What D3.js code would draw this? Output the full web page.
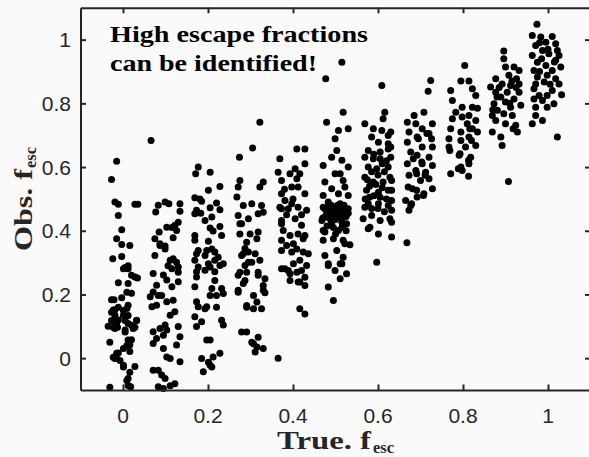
<!DOCTYPE html>
<html>
<head>
<meta charset="utf-8">
<script src="https://cdn.jsdelivr.net/npm/d3@7"></script>
<style>
  html, body { margin: 0; padding: 0; background: #fafafa; }
  svg { display: block; }
</style>
</head>
<body>
<div id="chart"></div>
<script>
// ---- data: [true f_esc (with jitter), observed f_esc] ----
const cluster00 = [[-0.015,0.618],[-0.027,0.561],[-0.019,0.49],[-0.011,0.483],[-0.011,0.448],[0.028,0.483],[0.035,0.483],[-0.003,0.403],[-0.015,0.375],[-0.003,0.357],[0.016,0.354],[-0.024,0.312],[-0.003,0.319],[0.001,0.281],[0.012,0.281],[0.02,0.26],[0.034,0.252],[-0.011,0.237],[0.012,0.234],[0.009,0.207],[0.02,0.204],[-0.003,0.19],[-0.027,0.183],[-0.021,0.183],[-0.011,0.16],[-0.019,0.152],[-0.027,0.144],[0.001,0.15],[0.012,0.134],[-0.019,0.124],[-0.027,0.118],[-0.011,0.12],[0.005,0.118],[0.032,0.118],[-0.035,0.1],[-0.023,0.097],[-0.013,0.097],[0.02,0.103],[0.028,0.097],[0.005,0.082],[-0.031,0.05],[0.02,0.058],[0.009,0.04],[0.001,0.03],[-0.011,0.016],[-0.023,0.003],[-0.016,0.003],[0.016,0.021],[-0.007,-0.007],[0.001,-0.028],[0.028,-0.026],[0.016,-0.044],[0.009,-0.07],[0.012,-0.086],[-0.031,-0.091],[0.018,-0.09],[0.028,0.255],[0.012,0.166],[-0.023,0.151],[0.009,0.156],[-0.019,0.135],[0.001,0.135],[0.032,0.119],[-0.015,0.109],[0.012,0.109],[0.024,0.093],[-0.019,0.093],[0.005,0.088],[0.012,0.057],[-0.015,0.015],[-0.019,-0.001],[0.001,-0.022],[0.012,-0.064],[0.016,0.041],[0.005,0.285],[0.012,0.29]];
const cluster01 = [[0.066,0.683],[0.099,0.49],[0.108,0.485],[0.083,0.48],[0.077,0.459],[0.134,0.485],[0.134,0.461],[0.13,0.427],[0.122,0.417],[0.115,0.41],[0.103,0.411],[0.126,0.401],[0.085,0.396],[0.118,0.378],[0.075,0.375],[0.087,0.354],[0.099,0.343],[0.075,0.322],[0.111,0.307],[0.126,0.301],[0.106,0.29],[0.13,0.286],[0.071,0.266],[0.095,0.261],[0.103,0.245],[0.079,0.229],[0.13,0.24],[0.115,0.224],[0.071,0.208],[0.083,0.197],[0.091,0.197],[0.064,0.193],[0.103,0.177],[0.118,0.182],[0.068,0.161],[0.079,0.166],[0.122,0.146],[0.111,0.135],[0.13,0.099],[0.099,0.104],[0.087,0.093],[0.103,0.088],[0.071,0.083],[0.095,0.072],[0.079,0.062],[0.134,0.067],[0.071,0.046],[0.126,0.041],[0.095,0.03],[0.103,0.004],[0.111,-0.001],[0.134,-0.011],[0.071,-0.038],[0.083,-0.038],[0.091,-0.053],[0.099,-0.064],[0.122,-0.08],[0.111,-0.087],[0.083,-0.09],[0.095,-0.095],[0.087,0.359],[0.099,0.352],[0.118,0.312],[0.115,0.281],[0.13,0.27]];
const cluster02 = [[0.177,0.6],[0.171,0.579],[0.205,0.584],[0.228,0.539],[0.201,0.527],[0.169,0.504],[0.185,0.493],[0.22,0.487],[0.205,0.472],[0.228,0.466],[0.169,0.453],[0.183,0.455],[0.209,0.443],[0.193,0.432],[0.205,0.409],[0.212,0.399],[0.228,0.413],[0.232,0.385],[0.169,0.385],[0.169,0.37],[0.201,0.367],[0.209,0.343],[0.197,0.338],[0.177,0.338],[0.216,0.333],[0.193,0.322],[0.224,0.317],[0.169,0.307],[0.201,0.296],[0.228,0.291],[0.177,0.286],[0.205,0.286],[0.173,0.271],[0.193,0.276],[0.216,0.271],[0.169,0.224],[0.209,0.219],[0.232,0.219],[0.205,0.197],[0.22,0.197],[0.173,0.177],[0.236,0.203],[0.177,0.161],[0.197,0.161],[0.169,0.13],[0.185,0.114],[0.173,0.099],[0.232,0.119],[0.236,0.104],[0.197,0.057],[0.205,0.057],[0.185,-0.001],[0.212,0.004],[0.228,0.015],[0.205,-0.022],[0.189,-0.043],[0.209,-0.028],[0.173,0.328],[0.216,0.307],[0.236,0.296],[0.173,0.255],[0.216,0.244],[0.22,0.16],[0.193,0.155],[0.201,-0.013],[0.181,0.5],[0.173,0.464]];
const cluster03 = [[0.322,0.741],[0.305,0.66],[0.274,0.631],[0.275,0.558],[0.271,0.537],[0.268,0.506],[0.283,0.479],[0.303,0.485],[0.322,0.537],[0.33,0.553],[0.326,0.479],[0.271,0.448],[0.295,0.438],[0.279,0.422],[0.318,0.453],[0.33,0.458],[0.275,0.39],[0.318,0.396],[0.291,0.364],[0.315,0.375],[0.295,0.333],[0.279,0.322],[0.322,0.307],[0.303,0.301],[0.287,0.291],[0.271,0.26],[0.291,0.27],[0.318,0.26],[0.334,0.249],[0.283,0.234],[0.271,0.207],[0.33,0.228],[0.334,0.205],[0.307,0.197],[0.315,0.176],[0.291,0.165],[0.307,0.155],[0.326,0.155],[0.279,0.082],[0.291,0.082],[0.318,0.066],[0.307,0.045],[0.33,0.03],[0.311,0.019],[0.365,0.0],[0.275,0.422],[0.299,0.39],[0.287,0.344],[0.283,0.328],[0.311,0.328],[0.295,0.301],[0.275,0.27],[0.287,0.244],[0.318,0.27],[0.271,0.213],[0.33,0.213],[0.291,0.16],[0.303,0.05],[0.315,0.035]];
const cluster04 = [[0.409,0.657],[0.428,0.657],[0.369,0.626],[0.428,0.61],[0.405,0.595],[0.365,0.584],[0.393,0.579],[0.416,0.579],[0.373,0.558],[0.409,0.563],[0.397,0.537],[0.412,0.537],[0.373,0.516],[0.428,0.516],[0.381,0.495],[0.397,0.485],[0.369,0.474],[0.412,0.474],[0.373,0.469],[0.389,0.469],[0.432,0.464],[0.373,0.432],[0.405,0.438],[0.42,0.417],[0.377,0.401],[0.393,0.385],[0.428,0.385],[0.373,0.37],[0.401,0.359],[0.373,0.338],[0.409,0.343],[0.436,0.328],[0.416,0.307],[0.432,0.291],[0.401,0.296],[0.373,0.281],[0.389,0.275],[0.409,0.27],[0.428,0.254],[0.393,0.244],[0.412,0.239],[0.428,0.228],[0.416,0.155],[0.428,0.139],[0.373,0.422],[0.412,0.39],[0.424,0.375],[0.385,0.354],[0.397,0.333],[0.424,0.333],[0.381,0.281],[0.42,0.275],[0.393,0.265],[0.416,0.239],[0.385,0.45],[0.42,0.45],[0.4,0.5],[0.38,0.53]];
const cluster05 = [[0.515,0.929],[0.477,0.877],[0.518,0.772],[0.479,0.741],[0.507,0.715],[0.53,0.72],[0.499,0.689],[0.503,0.652],[0.491,0.631],[0.471,0.605],[0.515,0.621],[0.53,0.6],[0.499,0.579],[0.511,0.579],[0.475,0.553],[0.518,0.558],[0.491,0.532],[0.522,0.537],[0.507,0.516],[0.471,0.511],[0.53,0.511],[0.483,0.49],[0.511,0.485],[0.471,0.474],[0.475,0.469],[0.491,0.479],[0.507,0.469],[0.522,0.464],[0.53,0.469],[0.468,0.432],[0.491,0.422],[0.515,0.427],[0.526,0.422],[0.475,0.396],[0.507,0.401],[0.471,0.37],[0.495,0.375],[0.518,0.37],[0.534,0.356],[0.503,0.338],[0.518,0.317],[0.475,0.322],[0.511,0.296],[0.483,0.291],[0.499,0.275],[0.526,0.265],[0.511,0.249],[0.483,0.223],[0.495,0.181],[0.471,0.401],[0.522,0.359],[0.483,0.296],[0.515,0.296],[0.48,0.46],[0.49,0.45],[0.5,0.455],[0.51,0.445],[0.52,0.45],[0.485,0.44],[0.5,0.435],[0.515,0.44],[0.495,0.465],[0.505,0.48],[0.52,0.48],[0.478,0.45],[0.525,0.445],[0.49,0.43],[0.51,0.46],[0.5,0.47],[0.485,0.475],[0.53,0.455],[0.47,0.44],[0.515,0.41],[0.495,0.41],[0.48,0.415],[0.525,0.4],[0.5,0.39]];
const cluster06 = [[0.609,0.856],[0.616,0.772],[0.612,0.752],[0.569,0.736],[0.589,0.72],[0.609,0.715],[0.624,0.699],[0.585,0.694],[0.601,0.678],[0.624,0.673],[0.577,0.652],[0.605,0.647],[0.624,0.657],[0.569,0.631],[0.589,0.626],[0.605,0.626],[0.577,0.6],[0.597,0.595],[0.624,0.6],[0.569,0.568],[0.589,0.553],[0.612,0.553],[0.628,0.568],[0.573,0.527],[0.601,0.521],[0.624,0.527],[0.577,0.485],[0.601,0.485],[0.624,0.479],[0.63,0.71],[0.63,0.663],[0.63,0.631],[0.632,0.558],[0.632,0.527],[0.632,0.495],[0.632,0.464],[0.632,0.427],[0.569,0.474],[0.585,0.47],[0.6,0.47],[0.615,0.46],[0.565,0.438],[0.585,0.448],[0.605,0.432],[0.628,0.438],[0.577,0.406],[0.601,0.39],[0.632,0.38],[0.597,0.301],[0.581,0.411],[0.58,0.54],[0.595,0.545],[0.61,0.535],[0.59,0.51],[0.605,0.505],[0.62,0.5],[0.575,0.56],[0.6,0.575],[0.615,0.585],[0.585,0.585],[0.58,0.505],[0.57,0.5],[0.61,0.61],[0.59,0.64],[0.62,0.62]];
const cluster07 = [[0.724,0.872],[0.718,0.838],[0.685,0.762],[0.708,0.772],[0.669,0.741],[0.689,0.736],[0.728,0.736],[0.704,0.72],[0.673,0.71],[0.72,0.705],[0.692,0.694],[0.669,0.678],[0.728,0.663],[0.704,0.663],[0.677,0.647],[0.692,0.637],[0.72,0.631],[0.669,0.61],[0.704,0.61],[0.728,0.605],[0.689,0.589],[0.712,0.584],[0.673,0.574],[0.72,0.563],[0.7,0.558],[0.681,0.532],[0.728,0.532],[0.708,0.516],[0.692,0.506],[0.665,0.495],[0.677,0.479],[0.673,0.464],[0.695,0.689],[0.715,0.705],[0.726,0.689],[0.683,0.626],[0.703,0.616],[0.691,0.579],[0.711,0.574],[0.671,0.537],[0.691,0.527],[0.707,0.511],[0.679,0.485],[0.668,0.362]];
const cluster08 = [[0.804,0.919],[0.795,0.87],[0.814,0.87],[0.771,0.84],[0.822,0.846],[0.83,0.825],[0.775,0.809],[0.798,0.788],[0.822,0.788],[0.834,0.785],[0.783,0.772],[0.814,0.762],[0.775,0.752],[0.798,0.757],[0.83,0.746],[0.81,0.736],[0.771,0.72],[0.822,0.72],[0.795,0.71],[0.834,0.71],[0.767,0.689],[0.814,0.694],[0.795,0.683],[0.83,0.668],[0.767,0.663],[0.806,0.663],[0.791,0.637],[0.818,0.631],[0.814,0.61],[0.795,0.6],[0.771,0.579],[0.798,0.589],[0.813,0.571],[0.769,0.652],[0.816,0.72],[0.82,0.683],[0.793,0.642],[0.813,0.621],[0.789,0.595]];
const cluster09 = [[0.896,0.964],[0.896,0.94],[0.9,0.914],[0.92,0.914],[0.932,0.903],[0.877,0.877],[0.908,0.888],[0.926,0.877],[0.865,0.851],[0.892,0.861],[0.912,0.856],[0.932,0.861],[0.877,0.835],[0.904,0.835],[0.932,0.835],[0.889,0.82],[0.92,0.814],[0.873,0.799],[0.9,0.804],[0.936,0.794],[0.881,0.778],[0.912,0.788],[0.869,0.762],[0.896,0.767],[0.916,0.762],[0.877,0.746],[0.9,0.736],[0.924,0.731],[0.869,0.71],[0.889,0.694],[0.928,0.71],[0.892,0.668],[0.907,0.555],[0.918,0.72],[0.88,0.82],[0.91,0.8],[0.925,0.85],[0.885,0.85],[0.915,0.87],[0.87,0.78]];
const cluster10 = [[0.974,1.048],[0.963,1.013],[0.983,1.008],[1.01,1.01],[0.995,0.992],[1.018,0.987],[0.971,0.982],[0.987,0.966],[1.022,0.966],[0.963,0.95],[1.002,0.956],[1.026,0.95],[0.975,0.929],[1.018,0.935],[0.967,0.903],[0.995,0.919],[1.03,0.914],[1.01,0.903],[0.975,0.883],[0.998,0.888],[1.018,0.877],[0.971,0.861],[0.991,0.867],[1.026,0.861],[0.967,0.846],[1.01,0.84],[1.032,0.827],[0.979,0.825],[0.998,0.825],[0.967,0.814],[0.987,0.809],[1.014,0.799],[0.998,0.788],[0.971,0.788],[0.971,0.762],[0.963,0.736],[0.987,0.746],[1.022,0.694],[0.98,0.99],[1.0,0.97],[1.015,0.93],[0.985,0.94],[1.005,0.86],[0.98,0.9]];

const xTicks = [0, 0.2, 0.4, 0.6, 0.8, 1];
const yTicks = [0, 0.2, 0.4, 0.6, 0.8, 1];
const xTickLabels = ["0", "0.2", "0.4", "0.6", "0.8", "1"];
const yTickLabels = ["0", "0.2", "0.4", "0.6", "0.8", "1"];
const annotationLines = ["High escape fractions", "can be identified!"];
const xLabelMain = "True. f", xLabelSub = "esc";
const yLabelMain = "Obs. f", yLabelSub = "esc";

// ---- drawing ----
const W = 589, H = 457;
const plot = { left: 80.5, right: 590.5, top: 7.8, bottom: 390 };
const axisColor = "#262626";

const svg = d3.select("#chart").append("svg")
  .attr("width", W).attr("height", H)
  .style("background", "#fafafa");

const x = d3.scaleLinear().domain([-0.1, 1.1]).range([plot.left, plot.right]);
const y = d3.scaleLinear().domain([-0.1, 1.1]).range([plot.bottom, plot.top]);

const allPoints = [cluster00, cluster01, cluster02, cluster03, cluster04, cluster05,
                   cluster06, cluster07, cluster08, cluster09, cluster10].flat();

svg.append("g").selectAll("circle").data(allPoints).join("circle")
  .attr("cx", d => x(d[0]))
  .attr("cy", d => y(d[1]))
  .attr("r", 3.5)
  .attr("fill", "#000");

const tickLen = 5.5;
const fontTick = "'Liberation Sans', Arial, Helvetica, sans-serif";

// axes with inward ticks
const axB = svg.append("g").attr("transform", `translate(0,${plot.bottom})`)
  .call(d3.axisBottom(x).tickValues(xTicks).tickSizeInner(-tickLen).tickSizeOuter(0).tickPadding(0).tickFormat(""));
const axT = svg.append("g").attr("transform", `translate(0,${plot.top})`)
  .call(d3.axisTop(x).tickValues(xTicks).tickSizeInner(-tickLen).tickSizeOuter(0).tickFormat(""));
const axL = svg.append("g").attr("transform", `translate(${plot.left},0)`)
  .call(d3.axisLeft(y).tickValues(yTicks).tickSizeInner(-tickLen).tickSizeOuter(0).tickFormat(""));
const axR = svg.append("g").attr("transform", `translate(${plot.right},0)`)
  .call(d3.axisRight(y).tickValues(yTicks).tickSizeInner(-tickLen).tickSizeOuter(0).tickFormat(""));
[axB, axT, axL, axR].forEach(g => {
  g.select(".domain").attr("stroke", axisColor).attr("stroke-width", 2);
  g.selectAll(".tick line").attr("stroke", axisColor).attr("stroke-width", 2);
});

// tick labels
svg.append("g").selectAll("text").data(xTicks).join("text")
  .attr("x", d => x(d)).attr("y", 423.3)
  .attr("text-anchor", "middle")
  .attr("font-family", fontTick).attr("font-size", 21).attr("fill", axisColor)
  .text((d, i) => xTickLabels[i]);
svg.append("g").selectAll("text").data(yTicks).join("text")
  .attr("x", 71).attr("y", d => y(d) + 7.5)
  .attr("text-anchor", "end")
  .attr("font-family", fontTick).attr("font-size", 21).attr("fill", axisColor)
  .text((d, i) => yTickLabels[i]);

// serif bold labels
const fontSerif = "'Liberation Serif', 'Times New Roman', serif";

// x label
svg.append("text").attr("x", 277).attr("y", 449)
  .attr("font-family", fontSerif).attr("font-weight", "bold").attr("font-size", 25)
  .attr("fill", axisColor).attr("textLength", 94).attr("lengthAdjust", "spacingAndGlyphs")
  .text(xLabelMain);
svg.append("text").attr("x", 373).attr("y", 452.5)
  .attr("font-family", fontSerif).attr("font-weight", "bold").attr("font-size", 16)
  .attr("fill", axisColor).attr("textLength", 21).attr("lengthAdjust", "spacingAndGlyphs")
  .text(xLabelSub);

// y label
const yl = svg.append("g").attr("transform", "translate(32,251) rotate(-90)");
yl.append("text").attr("x", 0).attr("y", 0)
  .attr("font-family", fontSerif).attr("font-weight", "bold").attr("font-size", 25)
  .attr("fill", axisColor).attr("textLength", 82).attr("lengthAdjust", "spacingAndGlyphs")
  .text(yLabelMain);
yl.append("text").attr("x", 83).attr("y", 3.5)
  .attr("font-family", fontSerif).attr("font-weight", "bold").attr("font-size", 16)
  .attr("fill", axisColor).attr("textLength", 21).attr("lengthAdjust", "spacingAndGlyphs")
  .text(yLabelSub);

// annotation
const annLen = [258, 207];
svg.append("g").selectAll("text").data(annotationLines).join("text")
  .attr("x", 110).attr("y", (d, i) => 41.7 + i * 29)
  .attr("font-family", fontSerif).attr("font-weight", "bold").attr("font-size", 24)
  .attr("fill", "#000").attr("textLength", (d, i) => annLen[i]).attr("lengthAdjust", "spacingAndGlyphs")
  .text(d => d);
</script>
</body>
</html>
